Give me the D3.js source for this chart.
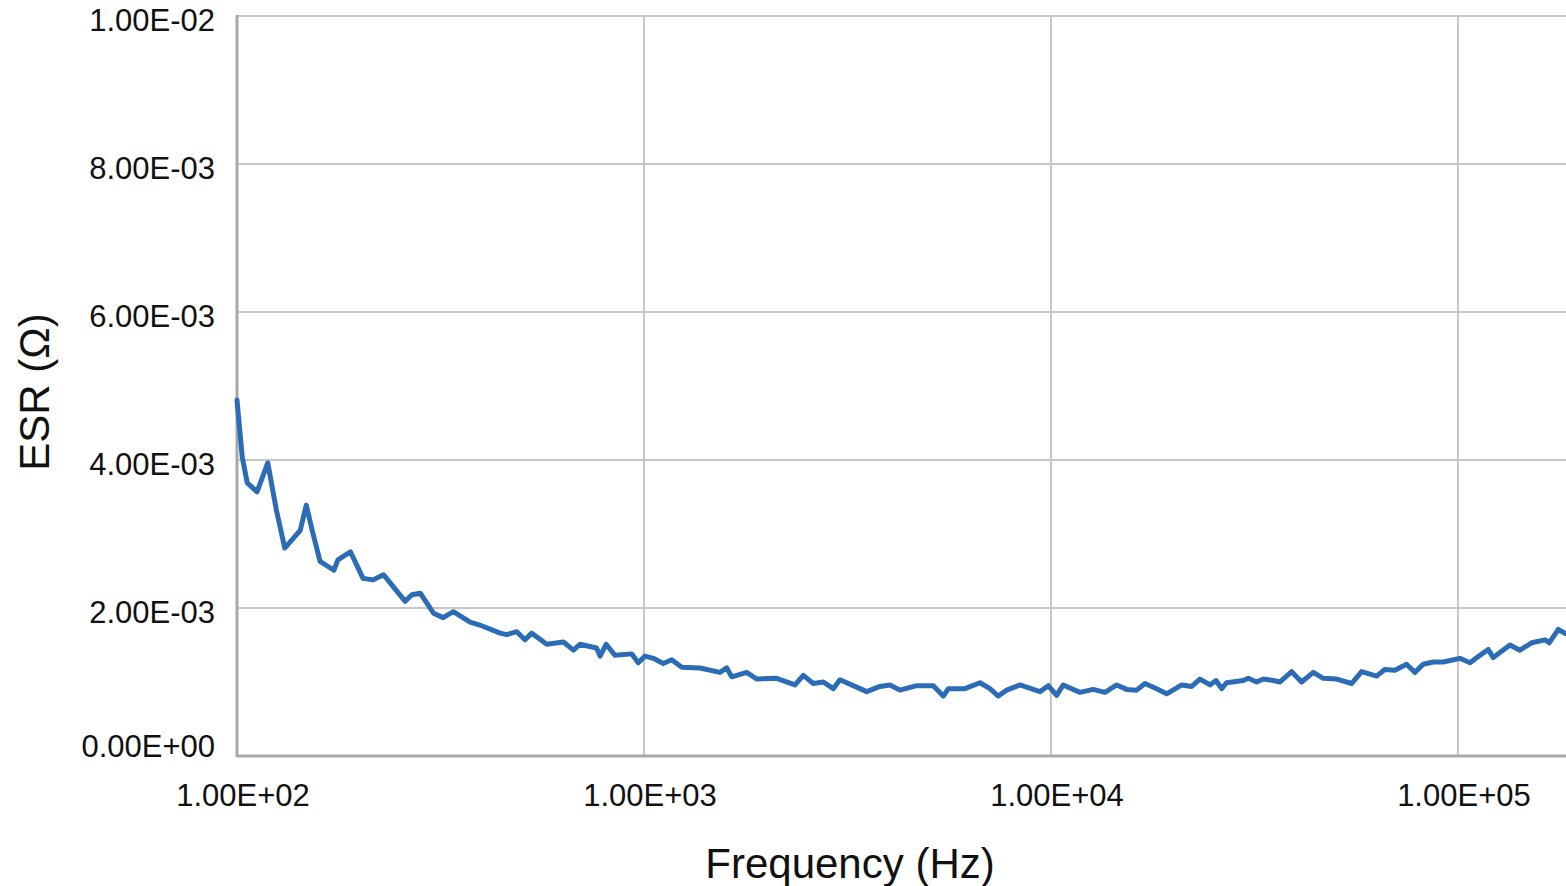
<!DOCTYPE html>
<html>
<head>
<meta charset="utf-8">
<script src="https://cdn.jsdelivr.net/npm/d3@7"></script>
<style>
  body { margin: 0; background: #fff; }
  text { font-family: "Liberation Sans", Arial, sans-serif; fill: #111; }
</style>
</head>
<body>
<svg id="chart"></svg>
<script>
// frequency (Hz) and ESR (milli-ohm)
let freqHz = [100, 103, 106, 112, 119, 125, 131, 143, 148, 153, 160, 173, 177, 190, 204, 216, 229, 259, 269, 282,
  304, 321, 340, 374, 395, 443, 460, 487, 510, 530, 577, 634, 671, 696, 765, 780, 807, 849, 933, 968,
  1006, 1054, 1115, 1170, 1238, 1373, 1537, 1597, 1643, 1788, 1892, 2118, 2350, 2463, 2606, 2757, 2918, 3030, 3394, 3526,
  3801, 4022, 4256, 4677, 5138, 5438, 5595, 6148, 6694, 7082, 7422, 7784, 8391, 9398, 9849, 10328, 10720, 11782, 12702, 13575,
  14503, 15346, 16240, 17023, 18184, 19245, 20950, 22168, 23233, 24590, 25438, 26271, 27027, 29690, 30543, 32020, 33235, 35173, 36533, 39028,
  41305, 44107, 46666, 50350, 54828, 57997, 63125, 66160, 70000, 74780, 78390, 82160, 86970, 92030, 101130, 107040, 113270, 118700, 122100, 134200,
  142000, 151700, 163600, 167600, 176400, 184300];
let esrMilli = [4.81, 4.04, 3.69, 3.57, 3.96, 3.32, 2.81, 3.05, 3.39, 3.05, 2.63, 2.51, 2.65, 2.76, 2.40, 2.38, 2.45, 2.09, 2.18, 2.20,
  1.93, 1.87, 1.95, 1.81, 1.77, 1.66, 1.64, 1.68, 1.57, 1.66, 1.51, 1.54, 1.43, 1.51, 1.46, 1.35, 1.51, 1.36, 1.38, 1.26,
  1.35, 1.32, 1.25, 1.30, 1.20, 1.19, 1.13, 1.19, 1.07, 1.13, 1.04, 1.05, 0.96, 1.09, 0.98, 1.00, 0.91, 1.03, 0.91, 0.87,
  0.94, 0.96, 0.89, 0.95, 0.95, 0.81, 0.91, 0.91, 0.99, 0.91, 0.81, 0.89, 0.96, 0.87, 0.95, 0.82, 0.96, 0.86, 0.90, 0.86,
  0.96, 0.90, 0.89, 0.98, 0.91, 0.84, 0.96, 0.94, 1.04, 0.96, 1.02, 0.91, 0.99, 1.02, 1.05, 1.00, 1.04, 1.02, 1.00, 1.14,
  1.00, 1.13, 1.05, 1.04, 0.98, 1.14, 1.08, 1.17, 1.16, 1.24, 1.13, 1.24, 1.27, 1.27, 1.32, 1.26, 1.36, 1.44, 1.33, 1.50,
  1.43, 1.53, 1.57, 1.53, 1.71, 1.65];

let xTicks = [1e2, 1e3, 1e4, 1e5];
let xTickLabels = ["1.00E+02", "1.00E+03", "1.00E+04", "1.00E+05"];
let yTicks = [0, 0.002, 0.004, 0.006, 0.008, 0.01];
let yTickLabels = ["0.00E+00", "2.00E-03", "4.00E-03", "6.00E-03", "8.00E-03", "1.00E-02"];

let width = 1566, height = 886;
let margin = {left: 237, top: 16, right: 0, bottom: 130};

let svg = d3.select("#chart").attr("width", width).attr("height", height);

let x = d3.scaleLog().domain([100, 184300]).range([margin.left, width - margin.right]);
let y = d3.scaleLinear().domain([0, 0.01]).range([height - margin.bottom, margin.top]);

// grid
svg.append("g")
  .selectAll("line")
  .data(yTicks.slice(1))
  .join("line")
  .attr("x1", margin.left).attr("x2", width)
  .attr("y1", d => y(d)).attr("y2", d => y(d))
  .attr("stroke", "#c6c6c6").attr("stroke-width", 2);

svg.append("g")
  .selectAll("line")
  .data(xTicks.slice(1))
  .join("line")
  .attr("x1", d => x(d)).attr("x2", d => x(d))
  .attr("y1", margin.top).attr("y2", y(0))
  .attr("stroke", "#c6c6c6").attr("stroke-width", 2);

// axes lines
svg.append("line")
  .attr("x1", x(100)).attr("x2", x(100)).attr("y1", margin.top - 1).attr("y2", y(0) + 1)
  .attr("stroke", "#a8a8a8").attr("stroke-width", 3);
svg.append("line")
  .attr("x1", margin.left).attr("x2", width).attr("y1", y(0)).attr("y2", y(0))
  .attr("stroke", "#a8a8a8").attr("stroke-width", 3);

// tick labels
svg.append("g")
  .selectAll("text")
  .data(yTicks)
  .join("text")
  .attr("x", 215)
  .attr("y", d => y(d) + (d == 0 ? -10 : 4))
  .attr("dy", "0.36em")
  .attr("text-anchor", "end")
  .style("font-size", "31px")
  .text((d, i) => yTickLabels[i]);

svg.append("g")
  .selectAll("text")
  .data(xTicks)
  .join("text")
  .attr("x", d => x(d) + 6)
  .attr("y", 806)
  .attr("text-anchor", "middle")
  .style("font-size", "31px")
  .text((d, i) => xTickLabels[i]);

// titles
svg.append("text")
  .attr("x", 850).attr("y", 878)
  .attr("text-anchor", "middle")
  .style("font-size", "42px")
  .text("Frequency (Hz)");

svg.append("text")
  .attr("transform", "translate(49,392) rotate(-90)")
  .attr("text-anchor", "middle")
  .style("font-size", "42px")
  .text("ESR (Ω)");

// ESR curve
let pts = freqHz.map((f, i) => [f, esrMilli[i] / 1000]);
let line = d3.line()
  .x(d => x(d[0]))
  .y(d => y(d[1]));

svg.append("path")
  .datum(pts)
  .attr("d", line)
  .attr("fill", "none")
  .attr("stroke", "#2c6cb6")
  .attr("stroke-width", 5)
  .attr("stroke-linejoin", "round")
  .attr("stroke-linecap", "round");
</script>
</body>
</html>
